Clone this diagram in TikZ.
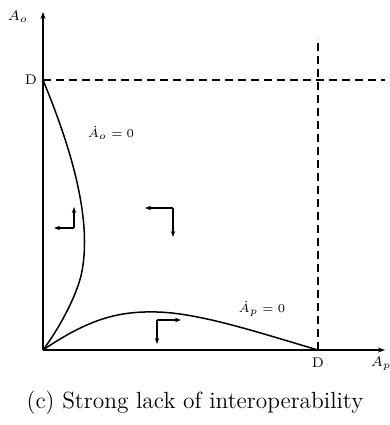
\documentclass[tikz,border=0pt]{standalone}
\usetikzlibrary{arrows.meta}
\begin{document}
\begin{tikzpicture}[x=0.5pt,y=-0.5pt,
  axis/.style={line width=0.9pt,-{Stealth[length=3.5pt,width=2.5pt]}},
  curve/.style={line width=0.75pt},
  guide/.style={line width=0.75pt,dash pattern=on 4pt off 2.5pt},
  flow/.style={line width=0.6pt,-{Stealth[length=3pt,width=2.2pt]}},
  lbl/.style={inner sep=0pt,font=\fontsize{7}{8}\selectfont},
  sml/.style={inner sep=0pt,font=\fontsize{6.5}{8}\selectfont}]
\useasboundingbox (0,0) rectangle (390,425);
% axes
\coordinate (O) at (43,350);
\coordinate (ytop) at (43,12);
\coordinate (xend) at (385,350);
\coordinate (Dy) at (43,80);
\coordinate (Dx) at (318,350);
\coordinate (hend) at (385,80);
\coordinate (vtop) at (318,38);
\draw[guide] (Dy) -- (hend);
\draw[guide] (Dx) -- (vtop);
\draw[axis] (O) -- (ytop);
\draw[axis] (O) -- (xend);
\node[lbl] (Ao) at (18,17) {$A_o$};
\node[lbl] (Ap) at (381,364) {$A_p$};
\node[lbl] (DyL) at (31,80) {D};
\node[lbl] (DxL) at (318,363) {D};
% nullclines
\draw[curve] (Dy) .. controls (72,150) and (90,215) .. (83,265) .. controls (80,292) and (58,330) .. (O);
\draw[curve] (O) .. controls (90,318) and (120,311) .. (157,312) .. controls (200,313) and (260,333) .. (Dx);
\node[sml] (lo) at (111,133) {$\dot A_o = 0$};
\node[sml] (lp) at (262,309) {$\dot A_p = 0$};
% flow arrows
\coordinate (c1) at (74,228);
\coordinate (c1u) at (74,207);
\coordinate (c1l) at (54,228);
\draw[flow] (c1) -- (c1u);
\draw[flow] (c1) -- (c1l);
\coordinate (c2) at (173,208);
\coordinate (c2l) at (145,208);
\coordinate (c2d) at (173,237);
\draw[flow] (c2) -- (c2l);
\draw[flow] (c2) -- (c2d);
\coordinate (c3) at (157,320);
\coordinate (c3r) at (181,320);
\coordinate (c3d) at (157,344);
\draw[flow] (c3) -- (c3r);
\draw[flow] (c3) -- (c3d);
% caption
\node[inner sep=0pt,font=\fontsize{11.7}{14}\selectfont] (cap) at (195,403) {(c) Strong lack of interoperability};
\end{tikzpicture}
\end{document}
